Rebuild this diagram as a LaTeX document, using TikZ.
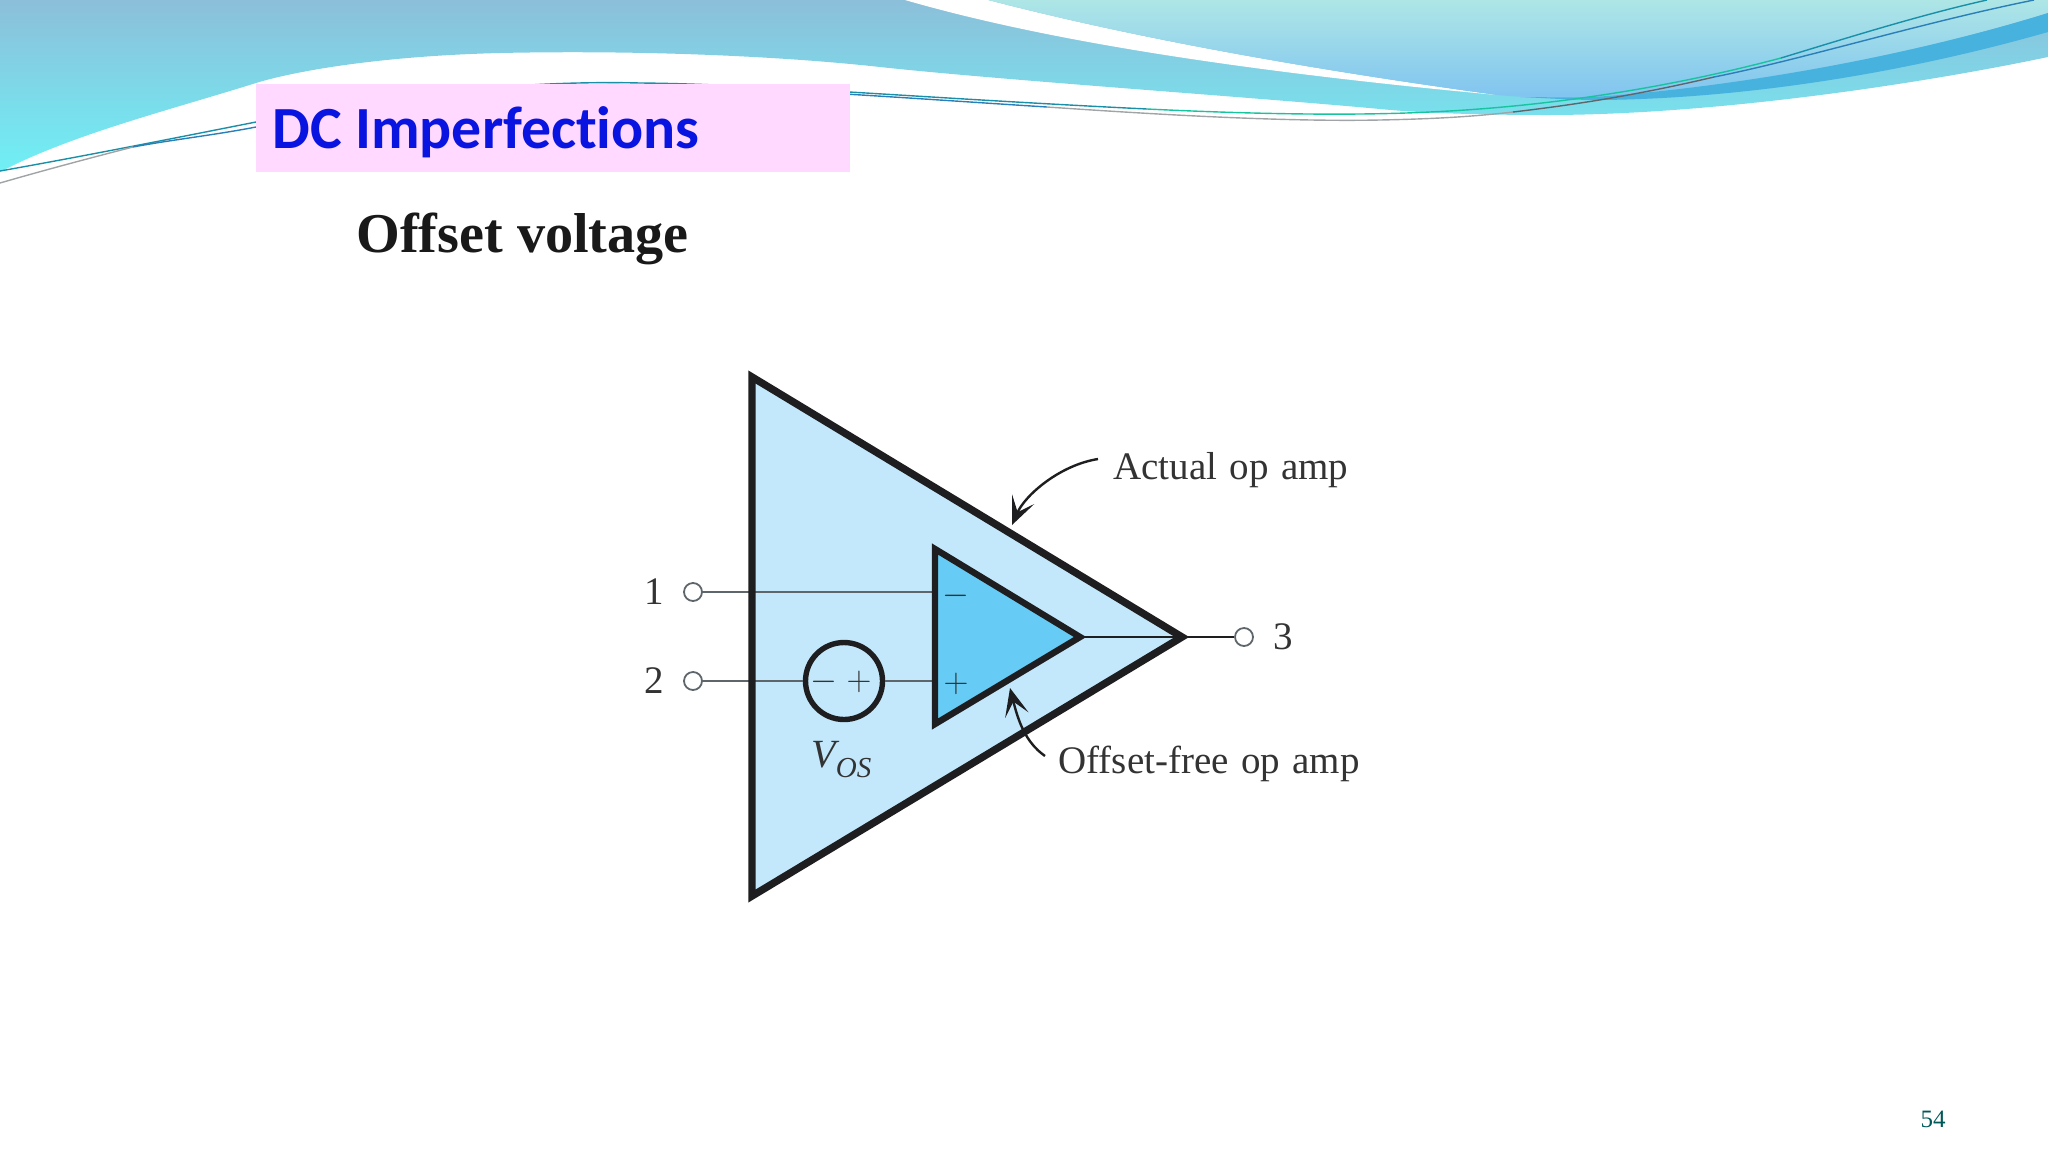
\documentclass[tikz,border=0pt]{standalone}
\usepackage{amsmath}
\usepackage{fontspec}
\setmainfont{Liberation Serif}
\newfontfamily\titlefont[Ligatures=CommonOff]{Carlito}
\usetikzlibrary{arrows.meta}
\definecolor{waveA}{HTML}{8CBFDA}
\definecolor{waveB}{HTML}{6FF0F5}
\definecolor{waveC}{HTML}{AEE6E6}
\definecolor{waveM}{HTML}{A2DFE8}
\definecolor{waveD}{HTML}{80C4F0}
\definecolor{waveE}{HTML}{48B2DE}
\definecolor{lineTeal}{HTML}{1A8FA8}
\definecolor{lineGreen}{HTML}{18C3A0}
\definecolor{lineGrey}{HTML}{A0A4A6}
\definecolor{lineBlue}{HTML}{2A7FB8}
\definecolor{boxPink}{HTML}{FFD9FF}
\definecolor{titleBlue}{HTML}{0A14E0}
\definecolor{ampOuter}{HTML}{C4E8FB}
\definecolor{ampInner}{HTML}{66CCF5}
\definecolor{edgeDark}{HTML}{1E1E20}
\definecolor{wireGrey}{HTML}{5E666C}
\definecolor{labelGrey}{HTML}{333333}
\tikzset{
  amp/.style = {draw = edgeDark, line join = miter},
  wire/.style = {wireGrey, line width = 1.4pt},
  waveline/.style = {line width = 0.7pt},
  terminal/.style = {circle, draw = wireGrey, fill = white, line width = 0.9pt, minimum size = 9pt, inner sep = 0pt},
  lbl/.style = {text = labelGrey, font = \fontsize{19.5}{22}\selectfont, inner sep = 0pt},
  sign/.style = {text = labelGrey, font = \fontsize{19}{22}\selectfont, inner sep = 0pt},
  pointer/.style = {edgeDark, line width = 1.2pt, -{Stealth[length = 14pt, width = 12pt, inset = 7pt]}}
}

\begin{document}
\begin{tikzpicture}[x = 0.5pt, y = -0.5pt]
      \useasboundingbox (0, 0) rectangle (2048, 1152);

      % header waves
      \path[top color = waveA, bottom color = waveB] (0, 0) -- (2048, 0) -- (2048, 57)
        .. controls (1900, 88) and (1700, 115) .. (1547, 115)
        .. controls (1480, 115) and (1420, 113) .. (1380, 109)
        .. controls (1250, 97) and (1000, 80) .. (880, 67)
        .. controls (780, 56) and (640, 50) .. (500, 53)
        .. controls (380, 56) and (295, 71) .. (256, 83)
        .. controls (170, 110) and (70, 135) .. (0, 172) -- cycle;
      \path[fill = white] (905, 0) .. controls (1050, 42) and (1250, 72) .. (1497, 95)
        .. controls (1300, 68) and (1130, 37) .. (988, 0) -- cycle;
      \path[top color = waveC, middle color = waveM, bottom color = waveD] (988, 0)
        .. controls (1130, 37) and (1300, 68) .. (1497, 95)
        .. controls (1530, 98) and (1560, 98) .. (1593, 97)
        .. controls (1700, 90) and (1880, 65) .. (2048, 13) -- (2048, 0) -- cycle;
      \path[fill = waveE] (1520, 97) .. controls (1545, 97) and (1570, 98) .. (1593, 97)
        .. controls (1700, 90) and (1880, 65) .. (2048, 13) -- (2048, 32)
        .. controls (1880, 80) and (1720, 99) .. (1600, 100)
        .. controls (1570, 100) and (1545, 98) .. (1520, 97) -- cycle;

      \draw[lineTeal, waveline] (0, 171) .. controls (90, 155) and (180, 137) .. (256, 122)
        .. controls (390, 95) and (520, 80) .. (640, 83) .. controls (760, 84) and (920, 98) .. (1147, 109);
      \draw[lineGreen, waveline] (1147, 109) .. controls (1250, 114) and (1350, 116) .. (1430, 112)
        .. controls (1540, 107) and (1660, 90) .. (1781, 58);
      \draw[lineTeal, waveline] (1781, 58) .. controls (1850, 37) and (1920, 15) .. (1987, 0);
      \draw[lineGrey, waveline] (0, 183) .. controls (45, 170) and (90, 158) .. (133, 147);
      \draw[lineBlue, waveline] (133, 147) .. controls (170, 140) and (215, 135) .. (256, 127)
        .. controls (390, 100) and (520, 82) .. (640, 85) .. controls (760, 87) and (920, 99) .. (1047, 107);
      \draw[lineGrey, waveline] (1047, 107) .. controls (1150, 114) and (1280, 122) .. (1380, 120)
        .. controls (1430, 119) and (1470, 117) .. (1513, 112);
      \draw[wireGrey, waveline] (1513, 112) .. controls (1590, 103) and (1650, 92) .. (1714, 77);
      \draw[lineBlue, waveline] (1714, 77) .. controls (1800, 60) and (1920, 23) .. (2034, 0);

      % title
      \node[fill = boxPink, minimum width = 297pt, minimum height = 44pt, anchor = north west, inner sep = 0pt] (TitleBox) at (256, 84) {};
      \node[anchor = base west, inner sep = 0pt, text = titleBlue, font = \titlefont\bfseries\fontsize{29.9}{32}\selectfont] (Title) at (272, 148) {DC Imperfections};
      \node[anchor = base west, inner sep = 0pt, text = black!90, font = \bfseries\fontsize{28.1}{30}\selectfont] (Subtitle) at (356, 252) {Offset voltage};
      \node[text = teal!70!black, font = \fontsize{12.5}{14}\selectfont, inner sep = 0pt] (PageNo) at (1933, 1119) {54};

      % op amps
      \coordinate (A1) at (752, 377);
      \coordinate (B1) at (752, 896);
      \coordinate (C1) at (1182, 637);
      \coordinate (A2) at (935, 549);
      \coordinate (B2) at (935, 724);
      \coordinate (C2) at (1080, 637);
      \coordinate (In1) at (935, 592);
      \coordinate (In2) at (935, 681);

      \path[fill = ampOuter] (A1) -- (B1) -- (C1) -- cycle;

      \node[terminal] (T1) at (693, 592) {};
      \node[terminal] (T2) at (693, 681) {};
      \node[terminal] (T3) at (1244, 637) {};
      \node[circle, draw = edgeDark, line width = 2.7pt, minimum size = 38.5pt, inner sep = 0pt] (Vos) at (844, 681) {};

      \draw[wire] (T1) -- (In1);
      \draw[wire] (T2) -- (Vos);
      \draw[wire] (Vos) -- (In2);
      \draw[edgeDark, line width = 1pt] (C2) -- (C1) -- (T3);

      \draw[amp, line width = 3.7pt] (A1) -- (B1) -- (C1) -- cycle;
      \draw[amp, fill = ampInner, line width = 3.2pt] (A2) -- (B2) -- (C2) -- cycle;

      \node[sign] at (956, 596) {$-$};
      \node[sign] at (956, 684) {$+$};
      \node[sign] at (824, 682) {$-$};
      \node[sign] at (859, 682) {$+$};

      % labels
      \node[lbl] (L1) at (654, 592) {1};
      \node[lbl] (L2) at (654, 681) {2};
      \node[lbl] (L3) at (1283, 637) {3};
      \node[lbl, anchor = base west, font = \itshape\fontsize{20}{24}\selectfont] (VosLbl) at (811, 767) {V\raisebox{-5pt}{\fontsize{14.5}{16}\selectfont OS}};
      \node[lbl, anchor = base west] (ActualLbl) at (1113, 479) {Actual\hspace{1.3pt} op\hspace{1.3pt} amp};
      \node[lbl, anchor = base west] (OffsetLbl) at (1058, 773) {Offset-free\hspace{1.3pt} op\hspace{1.3pt} amp};

      \coordinate (ActualEnd) at (1098, 459);
      \coordinate (ActualTip) at (1012, 525);
      \coordinate (OffsetEnd) at (1045, 756);
      \coordinate (OffsetTip) at (1010, 688);
      \draw[pointer] (ActualEnd) .. controls (1060, 465) and (1025, 495) .. (ActualTip);
      \draw[pointer] (OffsetEnd) .. controls (1025, 742) and (1018, 720) .. (OffsetTip);
    \end{tikzpicture}
\end{document}
